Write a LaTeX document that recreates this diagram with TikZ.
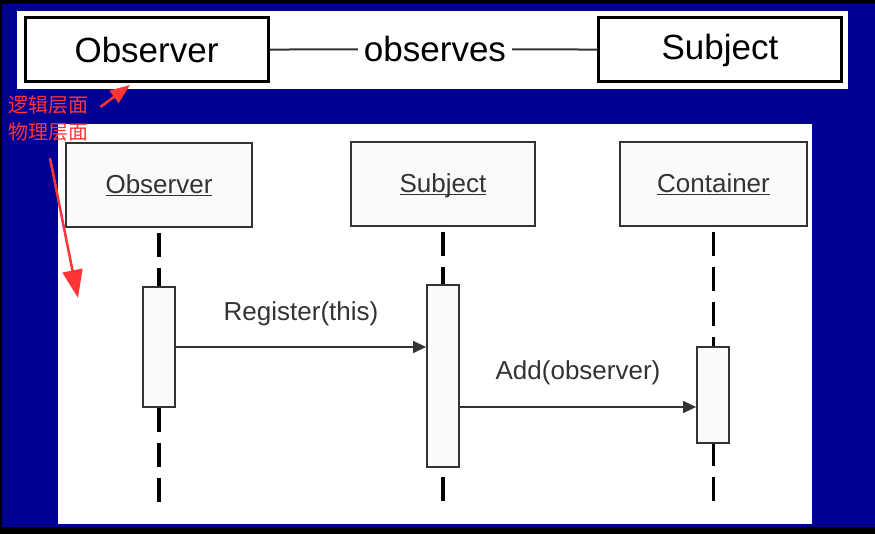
\documentclass[tikz,border=0pt]{standalone}
\usepackage{fontspec}
\setmainfont{Liberation Sans}
\newfontfamily\cjk{Noto Sans CJK SC}
\usetikzlibrary{arrows.meta,calc}
\definecolor{ink}{HTML}{333333}
\definecolor{navy}{HTML}{000094}
\definecolor{alert}{HTML}{FF3535}
\definecolor{pale}{HTML}{FAFAFA}

\begin{document}
\begin{tikzpicture}[x=1pt,y=-1pt,>=Latex,
  classbox/.style={draw=black,line width=3pt,fill=white,minimum width=243pt,minimum height=64pt,
    font=\fontsize{35}{40}\selectfont},
  headbox/.style={draw=ink,line width=1.8pt,fill=pale,minimum width=186pt,minimum height=84pt,
    text=ink,font=\fontsize{26}{30}\selectfont},
  actbox/.style={draw=ink,line width=1.8pt,fill=pale,minimum width=32pt},
  lifeline/.style={line width=3.5pt,dash pattern=on 24pt off 11pt},
  msg/.style={ink,line width=1.5pt,-{Triangle[length=13pt,width=12pt]}},
  msglabel/.style={text=ink,font=\fontsize{26}{30}\selectfont},
  note/.style={text=alert,font=\cjk\fontsize{20}{22}\selectfont,inner sep=0pt,anchor=west},
  pointer/.style={alert,line width=2.5pt}]
  % frame
  \fill[black] (0,0) rectangle (875,534);
  \fill[navy] (2,4) rectangle (875,527);
  \fill[white] (17,11) rectangle (848,89);
  \fill[white] (58,124) rectangle (812,524);

  % logical level
  \node[classbox] (obs) at (146.5,50) {Observer};
  \node[classbox] (subj) at (720,50) {Subject};
  \node[font=\fontsize{35}{40}\selectfont,inner sep=6pt] (rel) at (435,49) {observes};
  \draw[ink,line width=2pt] (obs) -- (rel) -- (subj);

  % physical level
  \coordinate (m1) at (0,347); \coordinate (m2) at (0,407);
  \node[headbox] (hObs) at (159,185) {\underline{Observer}};
  \node[headbox,minimum width=184pt] (hSubj) at (443,184) {\underline{Sub\smash{j}ect}};
  \node[headbox,minimum width=187pt] (hCont) at (713.5,184) {\underline{Container}};
  \coordinate (eObs) at (159,503); \coordinate (eSubj) at (443,503); \coordinate (eCont) at (713.5,503);
  \draw[lifeline,shorten <=5pt] (hObs.south) -- (eObs);
  \draw[lifeline,line width=4.5pt,shorten <=5pt] (hSubj.south) -- (eSubj);
  \draw[lifeline,line width=3pt,shorten <=5pt] (hCont.south) -- (eCont);
  \node[actbox,minimum height=120pt] (aObs) at (159,347) {};
  \node[actbox,minimum height=182pt] (aSubj) at (443,376) {};
  \node[actbox,minimum height=96pt] (aCont) at (713,395) {};
  \draw[msg] (aObs.east |- m1) -- (aSubj.west |- m1)
    node[msglabel,midway,above=17pt] {Register(this)};
  \draw[msg] (aSubj.east |- m2) -- (aCont.west |- m2)
    node[msglabel,midway,above=18pt] {Add(observer)};

  % notes
  \node[note] (lLogic) at (8,105) {逻辑层面};
  \node[note] (lPhys) at (8,132) {物理层面};
  \coordinate (tipLogic) at (130,85);
  \coordinate (tailPhys) at (50,158); \coordinate (tipPhys) at (78,298);
  \draw[pointer,-{Triangle[length=20pt,width=15pt]}] ($(lLogic.east)+(12,2)$) -- (tipLogic);
  \draw[pointer,-{Triangle[length=28pt,width=20pt]}] (tailPhys) -- (tipPhys);
\end{tikzpicture}
\end{document}
